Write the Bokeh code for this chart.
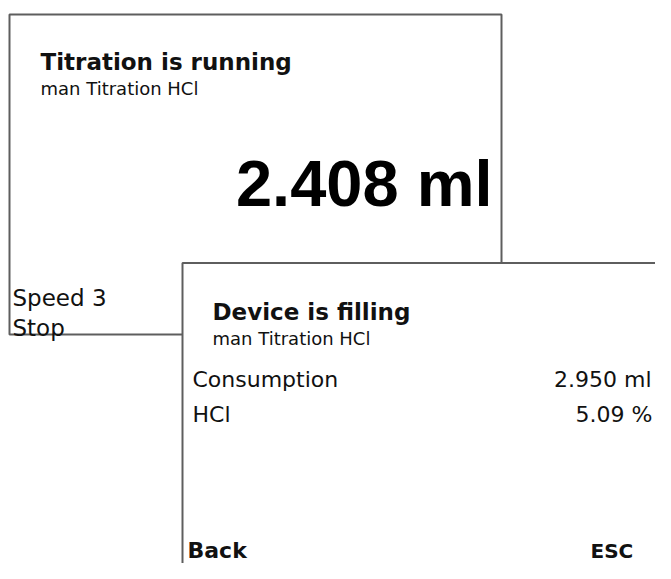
from bokeh.plotting import figure
from bokeh.models import Range1d, ColumnDataSource
from bokeh.core.properties import value
from bokeh.embed import file_html
from bokeh.resources import INLINE

# ---- data (texts and readings shown on the two device screens) ----
screen_titles = ["Titration is running", "Device is filling"]
method_name = "man Titration HCl"
running_volume_ml = 2.408
result_labels = ["Consumption", "HCl"]
result_values = [2.950, 5.09]
result_units = ["ml", "%"]
result_decimals = [3, 2]
speed_level = 3
softkeys_running = ["Speed %d" % speed_level, "Stop"]
softkeys_filling = ["Back", "ESC"]

# ---- page / layout (pixel coordinates, y downward) ----
W, H = 655, 563
p = figure(width=W, height=H, output_backend="svg", toolbar_location=None,
           x_range=Range1d(0, W), y_range=Range1d(H, 0), min_border=0)
p.axis.visible = False
p.grid.visible = False
p.outline_line_color = None
p.background_fill_color = "white"
p.border_fill_color = "white"

BORDER = "#5e5e5e"
INK = "#111111"
SANS = value("DejaVu Sans")
BIG = value("Liberation Sans")

# screen 1 frame
p.quad(left=[9], right=[501], top=[14], bottom=[334], fill_color="white",
       line_color=BORDER, line_width=2)

# screen 1 texts
p.text(x=[40], y=[61], text=[screen_titles[0]], text_font=SANS,
       text_font_style="bold", text_font_size="23px", text_color=INK,
       text_baseline="alphabetic")
p.text(x=[40], y=[88], text=[method_name], text_font=SANS,
       text_font_size="18px", text_color=INK, text_baseline="alphabetic")
p.text(x=[492], y=[183], text=["%.3f ml" % running_volume_ml], text_font=BIG,
       text_font_style="bold", text_font_size="65px", text_color="black",
       text_align="right", text_baseline="alphabetic")
p.text(x=[12, 12], y=[297, 327], text=softkeys_running, text_font=SANS,
       text_font_size="23px", text_color=INK, text_baseline="alphabetic")

# screen 2 frame (overlapping, extends past the page)
p.quad(left=[182], right=[720], top=[262.5], bottom=[640], fill_color="white",
       line_color=BORDER, line_width=2)

p.text(x=[212], y=[311], text=[screen_titles[1]], text_font=SANS,
       text_font_style="bold", text_font_size="23px", text_color=INK,
       text_baseline="alphabetic")
p.text(x=[212], y=[338], text=[method_name], text_font=SANS,
       text_font_size="18px", text_color=INK, text_baseline="alphabetic")

rows_y = [379, 414]
src_lab = ColumnDataSource(dict(x=[192] * len(result_labels), y=rows_y,
                                t=result_labels))
p.text(x="x", y="y", text="t", source=src_lab, text_font=SANS,
       text_font_size="22px", text_color=INK, text_baseline="alphabetic")
val_txt = [("%." + str(d) + "f %s") % (v, u)
           for v, u, d in zip(result_values, result_units, result_decimals)]
src_val = ColumnDataSource(dict(x=[651, 652], y=rows_y, t=val_txt))
p.text(x="x", y="y", text="t", source=src_val, text_font=SANS,
       text_font_size="22px", text_color=INK, text_align="right",
       text_baseline="alphabetic")

p.text(x=[187], y=[550], text=[softkeys_filling[0]], text_font=SANS,
       text_font_style="bold", text_font_size="22px", text_color=INK,
       text_baseline="alphabetic")
p.text(x=[590], y=[550], text=[softkeys_filling[1]], text_font=SANS,
       text_font_style="bold", text_font_size="20px", text_color=INK,
       text_baseline="alphabetic")

open("out.html", "w").write(file_html(p, INLINE))
